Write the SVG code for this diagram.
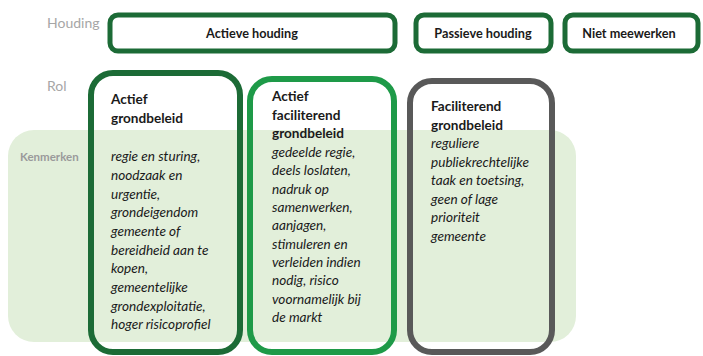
<svg xmlns="http://www.w3.org/2000/svg" width="703" height="356" viewBox="0 0 703 356">
<style>
.lbl{font-family:Lato,"Liberation Sans",sans-serif;fill:#a6a6a6;font-size:14px}
.kl{font-family:Lato,"Liberation Sans",sans-serif;fill:#9a9a9a;font-size:11.5px;font-weight:bold}
.hb{fill:#fff;stroke:#1c6b36;stroke-width:5}
.ht{font-family:Lato,"Liberation Sans",sans-serif;font-weight:bold;font-size:12.7px;fill:#1a1a1a}
.t{font-family:Lato,"Liberation Sans",sans-serif;font-size:13.6px;fill:#1a1a1a}
.b{font-weight:bold}
.i{font-style:italic}
.r{fill:none;stroke-width:6}
</style>
<rect x="8" y="130" width="568" height="212" rx="26" fill="#e2efda"/>
<text class="lbl" x="47" y="28">Houding</text>
<text class="lbl" x="47" y="91">Rol</text>
<text class="kl" x="20" y="161">Kenmerken</text>
<g id="actieve-houding"><rect class="hb" x="110" y="15" width="285" height="36" rx="8"/><text class="ht" x="252" y="38" text-anchor="middle">Actieve houding</text></g>
<g id="passieve-houding"><rect class="hb" x="416" y="15" width="135" height="36" rx="8"/><text class="ht" x="483" y="38" text-anchor="middle">Passieve houding</text></g>
<g id="niet-meewerken"><rect class="hb" x="565" y="15" width="133" height="36" rx="8"/><text class="ht" x="629" y="38" text-anchor="middle">Niet meewerken</text></g>
<g id="actief-grondbeleid"><rect class="r" stroke="#1c6b36" x="91" y="73" width="149" height="279" rx="22"/>
<text class="t" x="111"><tspan class="b" x="111" y="104">Actief</tspan><tspan class="b" x="111" y="123">grondbeleid</tspan>
<tspan class="i" x="111" y="161">regie en sturing,</tspan><tspan class="i" x="111" y="180">noodzaak en</tspan><tspan class="i" x="111" y="198.5">urgentie,</tspan><tspan class="i" x="111" y="217">grondeigendom</tspan><tspan class="i" x="111" y="236">gemeente of</tspan><tspan class="i" x="111" y="254.5">bereidheid aan te</tspan><tspan class="i" x="111" y="273">kopen,</tspan><tspan class="i" x="111" y="292">gemeentelijke</tspan><tspan class="i" x="111" y="310.5">grondexploitatie,</tspan><tspan class="i" x="111" y="329">hoger risicoprofiel</tspan></text></g>
<g id="actief-faciliterend"><rect class="r" stroke="#1e9a48" x="250" y="79" width="144" height="273" rx="22"/>
<text class="t" x="272"><tspan class="b" x="272" y="101">Actief</tspan><tspan class="b" x="272" y="120">faciliterend</tspan><tspan class="b" x="272" y="138">grondbeleid</tspan>
<tspan class="i" x="272" y="157">gedeelde regie,</tspan><tspan class="i" x="272" y="175">deels loslaten,</tspan><tspan class="i" x="272" y="193.5">nadruk op</tspan><tspan class="i" x="272" y="212">samenwerken,</tspan><tspan class="i" x="272" y="230">aanjagen,</tspan><tspan class="i" x="272" y="248.5">stimuleren en</tspan><tspan class="i" x="272" y="267">verleiden indien</tspan><tspan class="i" x="272" y="285">nodig, risico</tspan><tspan class="i" x="272" y="303.5">voornamelijk bij</tspan><tspan class="i" x="272" y="322">de markt</tspan></text></g>
<g id="faciliterend"><rect class="r" stroke="#595959" x="410" y="81" width="142" height="271" rx="22"/>
<text class="t" x="431"><tspan class="b" x="431" y="111">Faciliterend</tspan><tspan class="b" x="431" y="130">grondbeleid</tspan>
<tspan class="i" x="431" y="148">reguliere</tspan><tspan class="i" x="431" y="167">publiekrechtelijke</tspan><tspan class="i" x="431" y="185">taak en toetsing,</tspan><tspan class="i" x="431" y="204">geen of lage</tspan><tspan class="i" x="431" y="222">prioriteit</tspan><tspan class="i" x="431" y="241">gemeente</tspan></text></g>
<g id="connectors"></g>
</svg>
